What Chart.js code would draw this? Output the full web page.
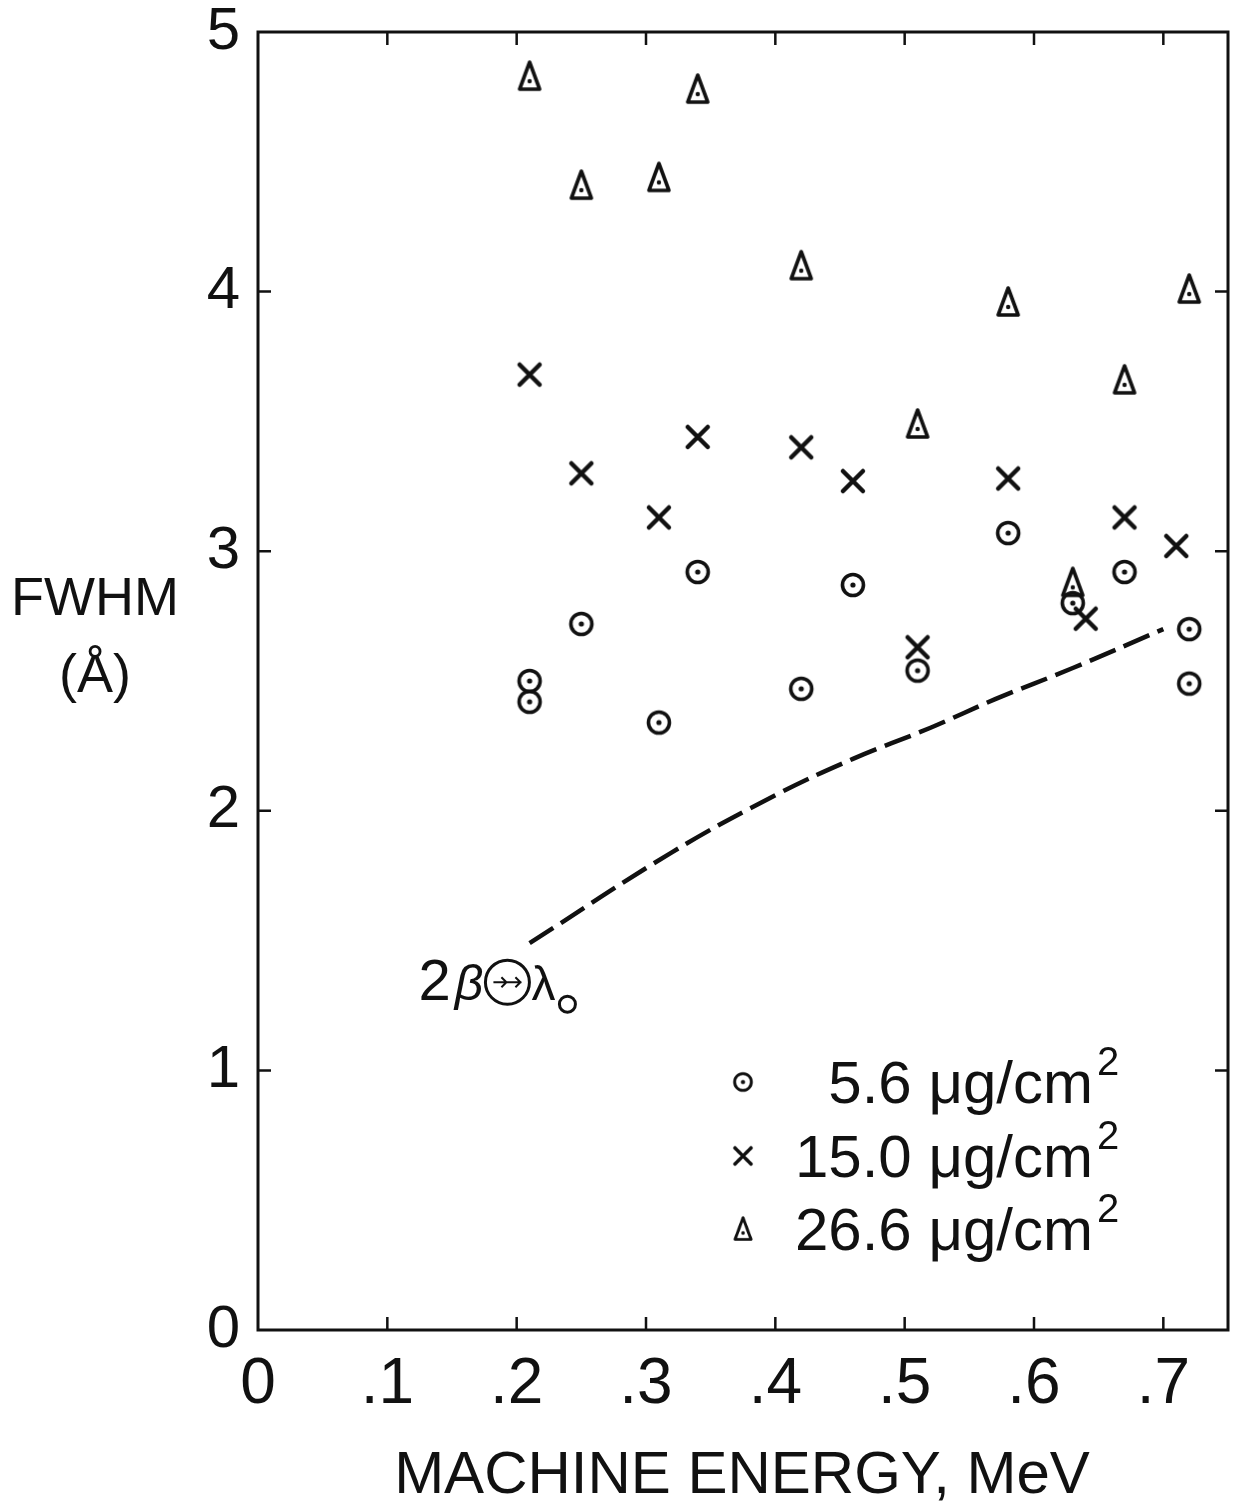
<!DOCTYPE html>
<html>
<head>
<meta charset="utf-8">
<script src="https://cdn.jsdelivr.net/npm/chart.js@4.4.1/dist/chart.umd.min.js"></script>
<style>
  html, body { margin: 0; padding: 0; background: #fff; }
  #wrap { width: 1235px; height: 1505px; }
</style>
</head>
<body>
<div id="wrap"><canvas id="chart"></canvas></div>
<script>
// tick values
const xTicks = [0, 0.1, 0.2, 0.3, 0.4, 0.5, 0.6, 0.7];
const yTicks = [0, 1, 2, 3, 4, 5];

// 5.6 ug/cm2 (circles)
const thinX = [0.21, 0.21, 0.25, 0.31, 0.34, 0.42, 0.46, 0.51, 0.58, 0.63, 0.67, 0.72, 0.72];
const thinY = [2.50, 2.42, 2.72, 2.34, 2.92, 2.47, 2.87, 2.54, 3.07, 2.80, 2.92, 2.70, 2.49];

// 15.0 ug/cm2 (crosses)
const midX = [0.21, 0.25, 0.31, 0.34, 0.42, 0.46, 0.51, 0.58, 0.64, 0.67, 0.71];
const midY = [3.68, 3.30, 3.13, 3.44, 3.40, 3.27, 2.63, 3.28, 2.74, 3.13, 3.02];

// 26.6 ug/cm2 (triangles)
const thickX = [0.21, 0.25, 0.31, 0.34, 0.42, 0.51, 0.58, 0.63, 0.67, 0.72];
const thickY = [4.83, 4.41, 4.44, 4.78, 4.10, 3.49, 3.96, 2.88, 3.66, 4.01];

// 2 beta (x) lambda0 dashed curve
const curveX = [0.21, 0.32, 0.40, 0.46, 0.52, 0.57, 0.63, 0.70];
const curveY = [1.49, 1.84, 2.06, 2.20, 2.32, 2.43, 2.55, 2.70];

const legendLabels = ['5.6', '15.0', '26.6'];

const FONT = '"Liberation Sans", Arial, sans-serif';
const INK = '#111';

function pts(xs, ys) { return xs.map((x, i) => ({x: x, y: ys[i]})); }

// marker images
function markCircle() {
    const c = document.createElement('canvas'); c.width = 30; c.height = 30;
    const g = c.getContext('2d');
    g.strokeStyle = INK; g.fillStyle = INK; g.lineWidth = 3.6;
    g.beginPath(); g.arc(15, 15, 10.5, 0, Math.PI * 2); g.stroke();
    g.beginPath(); g.arc(15, 15, 2.6, 0, Math.PI * 2); g.fill();
    return c;
}
function markCross() {
    const c = document.createElement('canvas'); c.width = 30; c.height = 30;
    const g = c.getContext('2d');
    g.strokeStyle = INK; g.lineWidth = 4.5; g.lineCap = 'round';
    g.beginPath(); g.moveTo(5, 5); g.lineTo(25, 25); g.moveTo(25, 5); g.lineTo(5, 25); g.stroke();
    return c;
}
function markTriangle() {
    const c = document.createElement('canvas'); c.width = 28; c.height = 34;
    const g = c.getContext('2d');
    g.strokeStyle = INK; g.fillStyle = INK; g.lineWidth = 3.6; g.lineJoin = 'round';
    g.beginPath(); g.moveTo(14, 3); g.lineTo(24, 30); g.lineTo(4, 30); g.closePath(); g.stroke();
    g.beginPath(); g.arc(14, 22, 2.2, 0, Math.PI * 2); g.fill();
    return c;
}
const imgCircle = markCircle(), imgCross = markCross(), imgTri = markTriangle();

const decor = {
    id: 'decor',
    afterDatasetsDraw(chart) {
        const ctx = chart.ctx, a = chart.chartArea;
        const xs = chart.scales.x, ys = chart.scales.y;
        ctx.save();
        ctx.strokeStyle = INK; ctx.fillStyle = INK;

        // frame
        ctx.lineWidth = 3;
        ctx.strokeRect(a.left, a.top, a.right - a.left, a.bottom - a.top);

        // inward ticks
        ctx.lineWidth = 2.5;
        ctx.beginPath();
        xTicks.slice(1).forEach(v => {
            const px = xs.getPixelForValue(v);
            ctx.moveTo(px, a.top); ctx.lineTo(px, a.top + 13);
            ctx.moveTo(px, a.bottom); ctx.lineTo(px, a.bottom - 13);
        });
        yTicks.slice(1, -1).forEach(v => {
            const py = ys.getPixelForValue(v);
            ctx.moveTo(a.left, py); ctx.lineTo(a.left + 13, py);
            ctx.moveTo(a.right, py); ctx.lineTo(a.right - 13, py);
        });
        ctx.stroke();

        // axis titles
        ctx.textAlign = 'center'; ctx.textBaseline = 'alphabetic';
        ctx.font = '60px ' + FONT;
        ctx.fillText('MACHINE ENERGY, MeV', 742, 1493);
        ctx.font = '54px ' + FONT;
        ctx.fillText('FWHM', 95, 615);
        ctx.fillText('(Å)', 95, 692);

        // curve label: 2 beta (circled arrow) lambda_o
        const ax = xs.getPixelForValue(curveX[0]), ay = ys.getPixelForValue(curveY[0]);
        let tx = ax - 111, by = ay + 57;
        ctx.textAlign = 'left';
        ctx.font = '58px ' + FONT;
        ctx.fillText('2', tx, by); tx += ctx.measureText('2').width + 4;
        ctx.font = 'italic 50px ' + FONT;
        ctx.fillText('β', tx, by); tx += ctx.measureText('β').width + 2;
        const cx = tx + 22, cy = by - 18;
        ctx.lineWidth = 3;
        ctx.beginPath(); ctx.arc(cx, cy, 22, 0, Math.PI * 2); ctx.stroke();
        ctx.lineWidth = 2;
        ctx.beginPath();
        ctx.moveTo(cx - 14, cy); ctx.lineTo(cx + 14, cy);
        ctx.moveTo(cx - 6, cy - 5); ctx.lineTo(cx - 1, cy); ctx.lineTo(cx - 6, cy + 5);
        ctx.moveTo(cx + 8, cy - 5); ctx.lineTo(cx + 13, cy); ctx.lineTo(cx + 8, cy + 5);
        ctx.stroke();
        tx = cx + 24;
        ctx.font = '48px ' + FONT;
        ctx.fillText('λ', tx, by); tx += ctx.measureText('λ').width + 12;
        ctx.lineWidth = 3;
        ctx.beginPath(); ctx.arc(tx, by + 4, 8, 0, Math.PI * 2); ctx.stroke();

        // legend
        const marks = [imgCircle, imgCross, imgTri];
        const rows = [1103, 1177, 1250];
        marks.forEach((m, i) => {
            const w = m.width * 0.8, h = m.height * 0.8;
            ctx.drawImage(m, 743 - w / 2, rows[i] - 21 - h / 2, w, h);
            ctx.textAlign = 'right';
            ctx.font = '60px ' + FONT;
            ctx.fillText(legendLabels[i] + ' \u03bcg/cm', 1093, rows[i]);
            ctx.textAlign = 'left';
            ctx.font = '40px ' + FONT;
            ctx.fillText('2', 1097, rows[i] - 28);
        });
        ctx.restore();
    }
};

new Chart(document.getElementById('chart'), {
    type: 'scatter',
    data: {
        datasets: [
            {
                type: 'line', label: 'curve', data: pts(curveX, curveY),
                borderColor: INK, borderWidth: 4.5, borderDash: [28, 9],
                pointRadius: 0, fill: false, tension: 0.4
            },
            {label: '5.6', data: pts(thinX, thinY), pointStyle: imgCircle},
            {label: '15.0', data: pts(midX, midY), pointStyle: imgCross},
            {label: '26.6', data: pts(thickX, thickY), pointStyle: imgTri}
        ]
    },
    options: {
        responsive: true,
        maintainAspectRatio: false,
        animation: false,
        layout: {padding: {top: 32, right: 7, left: 0, bottom: 0}},
        plugins: {legend: {display: false}, tooltip: {enabled: false}},
        scales: {
            x: {
                type: 'linear', min: 0, max: 0.75,
                afterBuildTicks: s => { s.ticks = xTicks.map(v => ({value: v})); },
                afterFit: s => { s.height = 175; },
                grid: {display: false}, border: {display: false},
                ticks: {
                    color: INK, padding: 22, font: {family: FONT, size: 64, lineHeight: 0.8},
                    callback: v => v === 0 ? '0' : v.toFixed(1).replace(/^0/, '')
                }
            },
            y: {
                min: 0, max: 5,
                afterBuildTicks: s => { s.ticks = yTicks.map(v => ({value: v})); },
                afterFit: s => { s.width = 258; },
                grid: {display: false}, border: {display: false},
                ticks: {color: INK, padding: 10, font: {family: FONT, size: 60, lineHeight: 0.7}}
            }
        }
    },
    plugins: [decor]
});
</script>
</body>
</html>
